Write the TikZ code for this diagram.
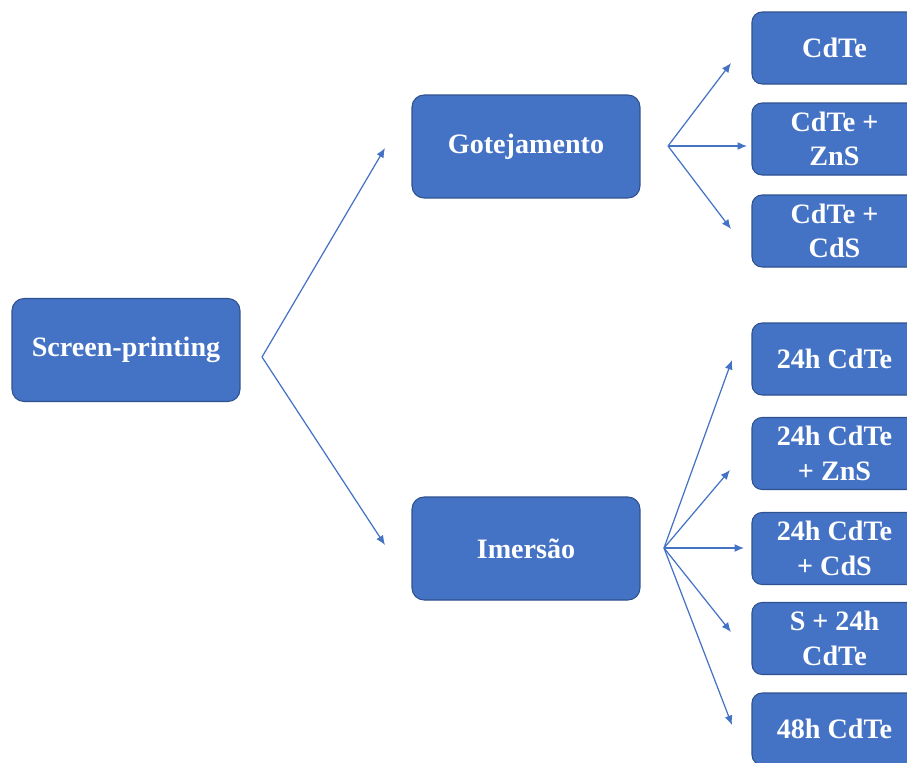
\documentclass[tikz,border=0pt]{standalone}
\usepackage{fontspec}
\setmainfont{Liberation Serif}
\usetikzlibrary{arrows.meta}
\definecolor{boxblue}{HTML}{4472C4}
\definecolor{boxedge}{HTML}{2F528F}

\begin{document}
\begin{tikzpicture}[x=0.02cm, y=-0.02cm,
    box/.style={draw=boxedge, line width=0.6pt, fill=boxblue, rounded corners=0.24cm,
        text=white, align=center, font=\fontsize{16}{19.5}\selectfont\bfseries,
        minimum width=4.56cm, minimum height=2.06cm},
    leaf/.style={box, rounded corners=0.2cm, minimum width=3.3cm, minimum height=1.44cm},
    link/.style={-{Latex[length=1.9mm,width=1.6mm]}, draw=boxblue, line width=0.7pt}]
    \useasboundingbox (0,0) rectangle (907,762);
    \clip (0,0) rectangle (907,762);

    % Root
    \node[box] (screen) at (126,350) {Screen-printing};

    % Methods
    \node[box] (gotej) at (526,146.5) {Gotejamento};
    \node[box] (imers) at (526,548.5) {Imersão};

    % Gotejamento samples
    \node[leaf] (g1) at (834.5,48) {CdTe};
    \node[leaf] (g2) at (834.5,139) {CdTe +\\ZnS};
    \node[leaf] (g3) at (834.5,231) {CdTe +\\CdS};

    % Imersao samples
    \node[leaf] (i1) at (834.5,359) {24h CdTe};
    \node[leaf] (i2) at (834.5,453.5) {24h CdTe\\+ ZnS};
    \node[leaf] (i3) at (834.5,548.5) {24h CdTe\\+ CdS};
    \node[leaf] (i4) at (834.5,638.5) {S + 24h\\CdTe};
    \node[leaf] (i5) at (834.5,729) {48h CdTe};

    % Fork points and arrow tips
    \coordinate (fork0) at (262,357);
    \coordinate (tipg) at (385,148);
    \coordinate (tipi) at (385,545);
    \coordinate (fork1) at (668,146);
    \coordinate (tipg1) at (731,63);
    \coordinate (tipg2) at (747,146);
    \coordinate (tipg3) at (731,229);
    \coordinate (fork2) at (664,548);
    \coordinate (tipi1) at (732,360);
    \coordinate (tipi2) at (730,470);
    \coordinate (tipi3) at (744,548);
    \coordinate (tipi4) at (731,632);
    \coordinate (tipi5) at (732,725);

    % Arrows
    \draw[link] (fork0) -- (tipg);
    \draw[link] (fork0) -- (tipi);
    \draw[link] (fork1) -- (tipg1);
    \draw[link] (fork1) -- (tipg2);
    \draw[link] (fork1) -- (tipg3);
    \draw[link] (fork2) -- (tipi1);
    \draw[link] (fork2) -- (tipi2);
    \draw[link] (fork2) -- (tipi3);
    \draw[link] (fork2) -- (tipi4);
    \draw[link] (fork2) -- (tipi5);
\end{tikzpicture}
\end{document}
